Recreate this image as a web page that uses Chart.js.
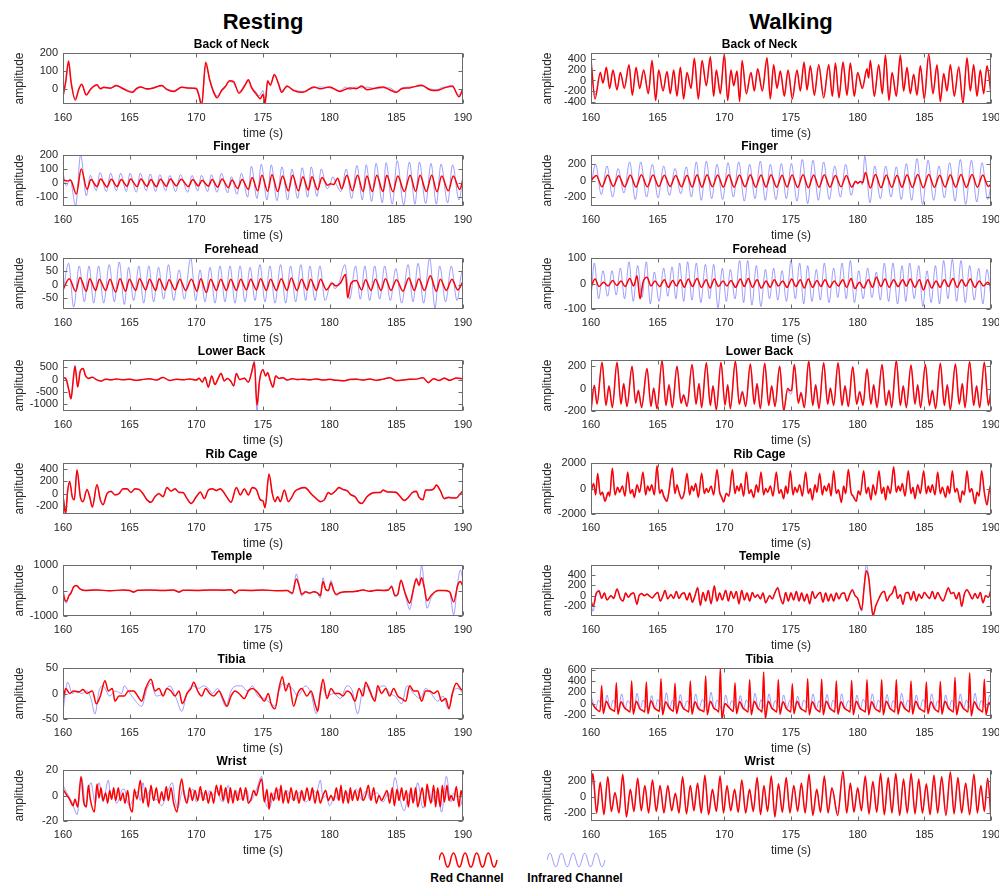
<!DOCTYPE html>
<html>
<head>
<meta charset="utf-8">
<script src="https://cdn.jsdelivr.net/npm/chart.js@4.4.0/dist/chart.umd.min.js"></script>
<style>
html, body { margin: 0; padding: 0; width: 999px; height: 883px; overflow: hidden; background: #fff; }
body { position: relative; font-family: 'Liberation Sans', Arial, Helvetica, sans-serif; }
canvas { position: absolute; }
.head { position: absolute; top: 9px; width: 200px; text-align: center; font-weight: bold; font-size: 22px; line-height: 26px; color: #000; }
.lg { position: absolute; top: 870px; text-align: center; font-weight: bold; font-size: 12px; line-height: 16px; color: #000; }
svg { position: absolute; }
</style>
</head>
<body>
<div class="head" style="left:163px">Resting</div>
<div class="head" style="left:691px">Walking</div>

<svg style="left:439px;top:852px" width="60" height="16"><path d="M0,8 Q2.9,-6 5.8,8 T11.6,8 T17.4,8 T23.2,8 T29,8 T34.8,8 T40.6,8 T46.4,8 T52.2,8 T58,8" fill="none" stroke="#ff0000" stroke-width="1.5"/></svg>
<svg style="left:547px;top:852px" width="60" height="16"><path d="M0,8 Q2.9,-6 5.8,8 T11.6,8 T17.4,8 T23.2,8 T29,8 T34.8,8 T40.6,8 T46.4,8 T52.2,8 T58,8" fill="none" stroke="rgba(60,60,255,0.55)" stroke-width="0.9"/></svg>
<div class="lg" style="left:417px;width:100px">Red Channel</div>
<div class="lg" style="left:505px;width:140px">Infrared Channel</div>

<script>
// time axis (s)
const xTicks = [160, 165, 170, 175, 180, 185, 190];

// ---- Resting: [t, value, t, value, ...]
const restNeckRed = [160,-45, 160.2,40, 160.42,155, 160.6,40, 160.92,-63, 161.2,0, 161.4,25, 161.75,-35, 162.05,-5, 162.55,22, 162.8,0, 163.05,8, 163.55,3, 164,18, 164.5,0, 165.2,-20, 165.5,0, 165.8,10, 166.3,0, 166.8,5, 167.4,18, 167.8,-5, 168.3,-15, 168.9,8, 169.5,5, 170,0, 170.2,-40, 170.4,-95, 170.7,148, 171,50, 171.3,-20, 171.55,-50, 171.9,-10, 172.15,10, 172.5,45, 172.8,40, 173.2,-25, 173.65,20, 173.9,50, 174.15,5, 174.5,-30, 174.8,-55, 175,-30, 175.15,-85, 175.35,45, 175.55,20, 175.85,80, 176.15,30, 176.4,-20, 176.8,15, 177.3,-10, 178,-20, 178.8,10, 179.3,0, 180,10, 180.75,-15, 181.5,5, 182,0, 182.4,15, 182.8,-5, 183.5,5, 184,10, 184.5,-5, 185,-20, 185.4,0, 186,5, 186.9,20, 187.5,-5, 188,-10, 188.6,5, 189.2,15, 189.7,-45, 190,0];
const restNeckIR = [160,-40, 160.2,30, 160.42,140, 160.6,45, 160.9,-55, 161.2,5, 161.4,20, 161.75,-30, 162.05,0, 162.55,18, 162.8,5, 163.05,5, 163.55,5, 164,15, 164.5,5, 165.2,-15, 165.5,5, 165.8,12, 166.3,-5, 166.8,8, 167.4,15, 167.8,0, 168.3,-10, 168.9,10, 169.5,0, 170,5, 170.2,-30, 170.4,-80, 170.7,130, 171,55, 171.3,-10, 171.55,-40, 171.9,-5, 172.15,15, 172.5,40, 172.8,30, 173.2,-15, 173.65,25, 173.9,40, 174.15,10, 174.5,-20, 174.7,-40, 175,-10, 175.15,-70, 175.35,40, 175.55,25, 175.85,70, 176.15,35, 176.4,-10, 176.8,10, 177.3,-5, 178,-15, 178.8,5, 179.3,10, 180,5, 180.75,-10, 181.2,10, 181.5,-5, 182,10, 182.4,5, 182.8,10, 183.5,0, 184,5, 184.5,5, 185,-15, 185.4,5, 186,10, 186.9,15, 187.5,0, 188,-5, 188.6,10, 189.2,10, 189.7,-35, 190,5];

const restFingerRed = [160,25, 160.3,15, 160.57,20, 161.0,-78, 161.37,100, 161.8,-45, 162.1,25, 162.55,-25, 162.82,30, 163.3,-28, 163.62,28, 164.05,-25, 164.37,25, 164.8,-22, 165.07,30, 165.55,-25, 165.84,30, 166.3,-22, 166.59,25, 167.0,-25, 167.31,28, 167.75,-22, 168.06,30, 168.5,-20, 168.86,28, 169.4,-25, 169.73,25, 170.15,-20, 170.43,20, 170.9,-22, 171.18,25, 171.6,-28, 171.93,30, 172.4,-32, 172.68,22, 173.1,-38, 173.43,25, 173.9,-45, 174.18,40, 174.6,-55, 174.92,55, 175.35,-58, 175.67,60, 176.1,-60, 176.47,50, 176.9,-55, 177.22,55, 177.65,-55, 177.99,45, 178.4,-50, 178.67,45, 179.1,-48, 179.42,40, 179.85,-15, 180.05,-5, 180.29,-10, 180.6,35, 180.9,-40, 181.29,55, 181.7,-55, 182.09,55, 182.5,-60, 182.79,50, 183.2,-60, 183.53,55, 184.0,-60, 184.28,55, 184.75,-62, 185.11,50, 185.6,-60, 186.03,55, 186.45,-58, 186.78,55, 187.25,-60, 187.65,55, 188.05,-62, 188.4,50, 188.9,-55, 189.27,50, 189.75,-45, 190,28];
const restFingerIR = [160,75, 160.25,-20, 160.52,30, 160.95,-160, 161.32,200, 161.75,-90, 162.05,55, 162.5,-55, 162.77,75, 163.25,-60, 163.57,70, 164.0,-55, 164.32,70, 164.75,-60, 165.02,70, 165.5,-65, 165.79,70, 166.25,-55, 166.54,65, 166.95,-60, 167.26,60, 167.7,-55, 168.01,55, 168.45,-60, 168.81,60, 169.35,-65, 169.68,55, 170.1,-55, 170.38,55, 170.85,-60, 171.13,60, 171.55,-65, 171.88,70, 172.35,-70, 172.63,45, 173.05,-80, 173.38,70, 173.85,-100, 174.13,120, 174.55,-110, 174.87,135, 175.3,-120, 175.62,130, 176.05,-125, 176.42,115, 176.85,-120, 177.17,100, 177.6,-110, 177.94,110, 178.35,-100, 178.62,115, 179.05,-95, 179.37,100, 179.8,-40, 180.0,-20, 180.24,45, 180.5,-10, 180.85,-60, 181.24,100, 181.65,-110, 182.04,125, 182.45,-120, 182.74,130, 183.15,-130, 183.48,140, 183.95,-140, 184.23,145, 184.7,-150, 185.06,160, 185.55,-155, 185.98,150, 186.4,-150, 186.73,150, 187.2,-145, 187.6,140, 188.0,-150, 188.35,135, 188.85,-140, 189.22,130, 189.7,-120, 190,55];

const restForeheadRed = [160,-20, 160.47,22, 160.95,-25, 161.27,27, 161.75,-25, 162.0,22, 162.45,-22, 162.72,20, 163.2,-22, 163.52,20, 163.95,-28, 164.27,22, 164.7,-25, 164.97,20, 165.45,-22, 165.74,22, 166.2,-20, 166.49,20, 166.95,-22, 167.21,22, 167.65,-20, 167.96,18, 168.4,-20, 168.76,20, 169.2,-22, 169.63,20, 170.05,-25, 170.33,22, 170.75,-30, 171.08,20, 171.5,-22, 171.83,20, 172.25,-22, 172.58,20, 173.0,-22, 173.33,20, 173.75,-20, 174.08,20, 174.5,-20, 174.82,22, 175.25,-22, 175.57,20, 176.0,-22, 176.37,22, 176.8,-22, 177.12,25, 177.55,-22, 177.89,20, 178.3,-20, 178.57,20, 179.0,-22, 179.32,20, 179.75,-20, 180.19,5, 180.45,-5, 180.8,5, 181.19,38, 181.35,-50, 181.6,5, 181.99,15, 182.4,-20, 182.69,18, 183.1,-22, 183.43,20, 183.85,-22, 184.18,22, 184.6,-22, 185.01,18, 185.5,-25, 185.93,25, 186.35,-22, 186.68,22, 187.1,-22, 187.55,33, 188.0,-25, 188.3,20, 188.75,-22, 189.17,20, 189.6,-20, 190,12];
const restForeheadIR = [160,-30, 160.42,80, 160.8,-85, 161.22,70, 161.6,-65, 161.95,70, 162.3,-70, 162.67,70, 163.05,-70, 163.47,75, 163.85,-65, 164.22,85, 164.6,-75, 164.92,65, 165.3,-60, 165.69,70, 166.05,-70, 166.44,70, 166.8,-65, 167.16,65, 167.55,-55, 167.91,75, 168.3,-60, 168.71,55, 169.1,-55, 169.58,100, 169.95,-60, 170.28,55, 170.65,-65, 171.03,65, 171.4,-70, 171.78,70, 172.15,-65, 172.53,70, 172.9,-70, 173.28,70, 173.65,-65, 174.03,65, 174.4,-60, 174.77,75, 175.15,-65, 175.52,70, 175.9,-70, 176.32,75, 176.7,-70, 177.07,70, 177.45,-65, 177.84,75, 178.2,-60, 178.52,70, 178.9,-60, 179.27,70, 179.65,-60, 180.14,10, 180.4,-15, 180.7,5, 181.14,75, 181.5,-55, 181.94,70, 182.3,-55, 182.64,70, 183.0,-60, 183.38,70, 183.75,-55, 184.13,70, 184.55,-60, 184.96,60, 185.4,-70, 185.88,75, 186.25,-65, 186.63,80, 187.05,-70, 187.5,100, 187.9,-88, 188.25,70, 188.7,-65, 189.12,70, 189.55,-60, 189.95,50, 190,45];

const restLowerBackRed = [160,80, 160.2,50, 160.45,-450, 160.6,-780, 160.75,-100, 160.9,550, 161.1,-300, 161.3,350, 161.5,450, 161.7,150, 161.9,50, 162.2,100, 162.5,0, 162.85,-60, 163.2,20, 163.6,-10, 164.0,30, 164.5,-10, 165.0,20, 165.5,-30, 166.0,10, 166.5,40, 167.0,-20, 167.5,90, 168.0,-40, 168.5,20, 169.0,-10, 169.5,30, 170.0,-20, 170.2,60, 170.45,-100, 170.65,100, 170.9,-300, 171.15,150, 171.4,-200, 171.6,0, 171.85,250, 172.1,-50, 172.35,50, 172.6,-80, 172.8,-250, 173.0,250, 173.25,0, 173.6,60, 173.9,-100, 174.15,300, 174.35,700, 174.55,-1050, 174.75,0, 175.0,400, 175.2,150, 175.35,280, 175.55,-50, 175.75,-300, 175.95,150, 176.2,50, 176.5,80, 176.8,-20, 177.2,40, 177.6,0, 178.0,20, 178.5,-10, 179.0,30, 179.5,-20, 180.0,10, 180.5,-30, 181.0,-50, 181.5,0, 182.0,20, 182.5,-20, 183.0,30, 183.5,-30, 184.0,20, 184.5,80, 185.0,-40, 185.5,-20, 186.0,10, 186.5,20, 187.0,80, 187.4,-120, 187.8,40, 188.2,-40, 188.6,60, 189.0,-30, 189.5,70, 190,30];
const restLowerBackIR = [160,90, 160.2,40, 160.45,-480, 160.6,-800, 160.75,-80, 160.9,580, 161.1,-280, 161.3,380, 161.5,460, 161.7,130, 161.9,60, 162.2,110, 162.5,-10, 162.85,-80, 163.2,30, 163.6,-20, 164.0,20, 164.5,0, 165.0,30, 165.5,-40, 166.0,0, 166.5,30, 167.0,-30, 167.5,100, 168.0,-30, 168.5,10, 169.0,0, 169.5,20, 170.0,-30, 170.2,70, 170.45,-120, 170.65,110, 170.9,-330, 171.15,160, 171.4,-220, 171.6,10, 171.85,270, 172.1,-60, 172.35,60, 172.6,-90, 172.8,-280, 173.0,270, 173.25,-10, 173.6,70, 173.9,-120, 174.15,330, 174.35,800, 174.55,-1300, 174.75,-20, 175.0,430, 175.2,140, 175.35,300, 175.55,-60, 175.75,-330, 175.95,160, 176.2,40, 176.5,90, 176.8,-30, 177.2,50, 177.6,-10, 178.0,30, 178.5,-20, 179.0,40, 179.5,-10, 180.0,0, 180.5,-20, 181.0,-60, 181.5,10, 182.0,30, 182.5,-10, 183.0,20, 183.5,-40, 184.0,10, 184.5,90, 185.0,-50, 185.5,-10, 186.0,20, 186.5,10, 187.0,90, 187.4,-140, 187.8,50, 188.2,-30, 188.6,70, 189.0,-40, 189.5,60, 190,40];

const restRibRed = [160,-30, 160.1,-200, 160.2,-330, 160.35,50, 160.5,200, 160.7,-60, 160.85,-100, 161.05,390, 161.3,-50, 161.5,-130, 161.8,70, 162.0,-50, 162.2,-220, 162.55,150, 162.8,-100, 163.0,-180, 163.3,0, 163.6,40, 163.9,-20, 164.2,0, 164.5,80, 164.8,80, 165.1,20, 165.4,80, 165.7,70, 166.0,0, 166.3,-100, 166.6,-140, 166.9,-50, 167.2,0, 167.5,-50, 167.8,100, 168.1,40, 168.4,80, 168.7,20, 169.0,20, 169.3,-80, 169.6,-160, 170.0,-50, 170.3,30, 170.6,-80, 170.9,60, 171.2,80, 171.5,50, 171.8,80, 172.0,40, 172.3,-60, 172.6,-140, 173.0,100, 173.3,-20, 173.6,80, 173.9,-20, 174.2,100, 174.5,70, 174.8,-100, 175.0,-120, 175.15,-230, 175.45,320, 175.7,0, 175.9,-130, 176.1,-50, 176.3,-130, 176.6,60, 176.9,-130, 177.1,-80, 177.4,40, 177.7,80, 178.1,100, 178.3,80, 178.6,0, 178.9,-60, 179.3,-130, 179.6,-100, 179.9,20, 180.1,-10, 180.4,40, 180.7,100, 181.0,70, 181.3,50, 181.6,-20, 181.9,-50, 182.2,-140, 182.4,-160, 182.8,-50, 183.1,0, 183.4,20, 183.8,20, 184.0,60, 184.3,30, 184.7,30, 185.0,20, 185.3,-50, 185.6,-110, 185.9,-60, 186.2,20, 186.5,40, 186.7,-60, 187.0,-100, 187.2,60, 187.5,60, 187.8,80, 188.0,140, 188.3,50, 188.6,-80, 188.9,-60, 189.2,-70, 189.5,-70, 189.8,0, 190,50];
const restRibIR = [160,-40, 160.1,-180, 160.2,-300, 160.35,40, 160.5,180, 160.7,-50, 160.85,-90, 161.05,360, 161.3,-40, 161.5,-120, 161.8,60, 162.0,-40, 162.2,-200, 162.55,140, 162.8,-90, 163.0,-170, 163.3,10, 163.6,30, 163.9,-10, 164.2,10, 164.5,70, 164.8,70, 165.1,30, 165.4,70, 165.7,60, 166.0,10, 166.3,-90, 166.6,-130, 166.9,-40, 167.2,10, 167.5,-40, 167.8,90, 168.1,50, 168.4,70, 168.7,30, 169.0,10, 169.3,-70, 169.6,-150, 170.0,-40, 170.3,20, 170.6,-70, 170.9,50, 171.2,70, 171.5,60, 171.8,70, 172.0,30, 172.3,-50, 172.6,-130, 173.0,90, 173.3,-10, 173.6,70, 173.9,-10, 174.2,90, 174.5,60, 174.8,-90, 175.0,-110, 175.15,-210, 175.45,300, 175.7,10, 175.9,-120, 176.1,-40, 176.3,-120, 176.6,50, 176.9,-120, 177.1,-70, 177.4,30, 177.7,70, 178.1,90, 178.3,70, 178.6,10, 178.9,-50, 179.3,-120, 179.6,-90, 179.9,10, 180.1,0, 180.4,30, 180.7,90, 181.0,60, 181.3,40, 181.6,-10, 181.9,-40, 182.2,-130, 182.4,-150, 182.8,-40, 183.1,10, 183.4,10, 183.8,30, 184.0,50, 184.3,40, 184.7,20, 185.0,30, 185.3,-40, 185.6,-100, 185.9,-50, 186.2,10, 186.5,30, 186.7,-50, 187.0,-90, 187.2,50, 187.5,50, 187.8,70, 188.0,130, 188.3,40, 188.6,-70, 188.9,-50, 189.2,-60, 189.5,-60, 189.8,10, 190,40];

const restTempleRed = [160,0, 160.1,-300, 160.25,-420, 160.45,-200, 160.6,-100, 160.8,150, 161.0,200, 161.3,50, 161.6,0, 162.5,20, 163.5,-10, 164.5,20, 165.0,0, 165.3,-60, 165.6,10, 166.5,20, 167.5,0, 168.3,20, 168.7,-60, 169.0,10, 170.0,0, 171.0,20, 172.0,10, 172.6,30, 172.9,-100, 173.2,10, 174.0,0, 175.0,20, 176.0,-10, 176.8,0, 177.2,-100, 177.5,450, 177.7,200, 177.9,-150, 178.2,-50, 178.5,-100, 178.8,-50, 179.1,-100, 179.3,-200, 179.5,350, 179.7,50, 179.9,0, 180.1,300, 180.3,0, 180.5,-150, 180.8,-80, 181.2,-50, 181.6,-50, 182.0,-30, 182.5,20, 183.0,-30, 183.5,10, 184.0,0, 184.4,20, 184.65,150, 184.9,-200, 185.1,-150, 185.35,400, 185.6,0, 185.8,-300, 186.0,-500, 186.3,100, 186.5,450, 186.7,200, 186.9,500, 187.1,100, 187.3,-400, 187.6,-200, 187.9,-50, 188.2,0, 188.6,0, 189.0,-50, 189.3,-450, 189.6,200, 189.8,350, 190,150];
const restTempleIR = [160,50, 160.1,-350, 160.25,-500, 160.45,-150, 160.6,-50, 160.8,100, 161.0,180, 161.3,40, 161.6,10, 162.5,30, 163.5,-20, 164.5,10, 165.0,10, 165.3,-80, 165.6,0, 166.5,10, 167.5,10, 168.3,10, 168.7,-80, 169.0,0, 170.0,10, 171.0,10, 172.0,20, 172.6,20, 172.9,-130, 173.2,0, 174.0,10, 175.0,10, 176.0,0, 176.8,10, 177.2,-150, 177.5,650, 177.7,250, 177.9,-220, 178.2,-60, 178.5,-130, 178.8,-60, 179.1,-120, 179.3,-300, 179.5,500, 179.7,50, 179.9,-20, 180.1,400, 180.3,-20, 180.5,-200, 180.8,-100, 181.2,-60, 181.6,-40, 182.0,-20, 182.5,30, 183.0,-40, 183.5,20, 184.0,10, 184.4,30, 184.65,200, 184.9,-250, 185.1,-180, 185.35,400, 185.6,-50, 185.8,-450, 186.0,-750, 186.3,50, 186.5,500, 186.7,250, 186.9,1000, 187.1,150, 187.3,-700, 187.6,-300, 187.9,-50, 188.2,10, 188.6,-10, 189.0,-80, 189.3,-950, 189.6,300, 189.8,800, 190,400];

const restTibiaRed = [160,-15, 160.2,10, 160.5,0, 160.8,5, 161.2,3, 161.5,8, 161.8,0, 162.2,5, 162.5,-20, 162.8,-5, 163.15,25, 163.4,5, 163.7,10, 163.9,-15, 164.2,-5, 164.6,-5, 164.9,5, 165.3,5, 165.6,-5, 165.9,-15, 166.2,10, 166.6,28, 166.9,5, 167.2,10, 167.5,-5, 167.8,10, 168.1,5, 168.4,-5, 168.7,5, 168.95,-20, 169.3,0, 169.6,10, 169.8,22, 170.1,5, 170.4,-5, 170.7,10, 171.0,0, 171.3,-5, 171.7,5, 172.0,-10, 172.3,-25, 172.6,-5, 172.9,5, 173.2,0, 173.6,-10, 173.9,5, 174.2,10, 174.5,5, 174.8,-5, 175.1,-15, 175.4,0, 175.6,-20, 175.9,-30, 176.2,10, 176.45,33, 176.7,5, 176.95,20, 177.3,-25, 177.6,0, 177.9,10, 178.3,-5, 178.6,5, 178.9,-20, 179.1,-35, 179.3,0, 179.5,28, 179.8,-10, 180.1,10, 180.4,0, 180.7,0, 181.0,-5, 181.3,5, 181.6,0, 181.9,-15, 182.2,10, 182.5,-5, 182.7,22, 183.0,5, 183.4,-15, 183.6,15, 183.9,0, 184.2,10, 184.5,-5, 184.8,10, 185.1,-5, 185.4,-10, 185.7,-15, 186.0,15, 186.3,5, 186.6,5, 186.9,-15, 187.2,5, 187.5,5, 187.8,0, 188.1,5, 188.4,-15, 188.7,-10, 188.95,-30, 189.2,0, 189.5,20, 189.8,10, 190,5];
const restTibiaIR = [160,-35, 160.35,22, 160.7,0, 161.0,5, 161.4,0, 161.8,5, 162.1,-10, 162.4,-40, 162.7,5, 163.0,15, 163.5,-5, 163.9,5, 164.4,0, 164.6,15, 164.9,5, 165.3,-10, 165.9,-25, 166.3,10, 166.6,20, 167.0,-5, 167.5,0, 168.0,15, 168.5,-10, 168.9,-35, 169.3,0, 169.7,15, 170.2,10, 170.5,15, 170.9,10, 171.2,0, 171.6,10, 172.2,-25, 172.6,5, 173.0,15, 173.4,15, 173.8,5, 174.2,15, 174.6,-5, 175.1,-10, 175.6,-20, 175.9,-25, 176.2,5, 176.5,20, 176.8,15, 177.2,10, 177.6,-5, 178.2,15, 178.6,0, 179.0,-40, 179.4,15, 179.8,-5, 180.3,0, 180.8,-10, 181.3,15, 181.7,5, 182.1,-40, 182.5,10, 182.9,15, 183.3,-10, 183.7,10, 184.1,15, 184.5,0, 184.9,-5, 185.4,-20, 185.8,15, 186.3,0, 186.8,-10, 187.2,10, 187.6,0, 188.1,-15, 188.5,-5, 188.9,-30, 189.3,5, 189.6,10, 190,0];

const restWristRed = [160,5, 160.3,0, 160.5,-3, 160.75,-8, 160.9,-3, 161.1,-9, 161.35,15, 161.55,-5, 161.75,-9, 161.9,8, 162.05,-3, 162.35,-13, 162.55,9, 162.7,-2, 162.85,6, 163.0,-4, 163.2,2, 163.35,-6, 163.5,4, 163.65,-3, 163.8,6, 163.95,-4, 164.15,6, 164.3,-4, 164.5,2, 164.65,-6, 164.85,4, 165.0,-8, 165.2,-13, 165.35,5, 165.55,-3, 165.8,12, 166.0,-6, 166.2,6, 166.4,-9, 166.6,8, 166.8,-4, 167.0,6, 167.2,-6, 167.4,3, 167.55,-4, 167.75,7, 167.9,-4, 168.1,6, 168.3,-6, 168.55,-13, 168.75,5, 168.9,13, 169.1,0, 169.3,-6, 169.5,6, 169.7,-4, 169.9,4, 170.1,-4, 170.3,7, 170.5,-4, 170.7,4, 170.9,-6, 171.1,3, 171.3,-6, 171.5,8, 171.7,0, 171.85,8, 172.0,-4, 172.2,6, 172.4,-6, 172.55,6, 172.75,-6, 172.9,4, 173.1,-4, 173.3,6, 173.5,-4, 173.7,6, 173.9,-6, 174.1,-3, 174.3,4, 174.5,0, 174.7,8, 174.9,13, 175.1,-5, 175.3,5, 175.45,-11, 175.6,2, 175.8,-4, 176.0,6, 176.2,-4, 176.35,8, 176.5,-6, 176.7,4, 176.9,-6, 177.1,6, 177.3,-4, 177.5,4, 177.7,-6, 177.9,4, 178.1,-4, 178.3,6, 178.5,-4, 178.7,6, 178.9,-6, 179.1,4, 179.3,-6, 179.5,0, 179.7,4, 179.9,-4, 180.1,0, 180.3,-4, 180.5,6, 180.7,-4, 180.85,8, 181.0,-6, 181.2,4, 181.4,-6, 181.55,6, 181.7,-4, 181.9,4, 182.1,-4, 182.3,6, 182.5,-4, 182.7,0, 182.9,8, 183.1,-4, 183.3,6, 183.5,-6, 183.7,0, 183.9,-4, 184.1,0, 184.3,4, 184.5,-6, 184.7,6, 184.85,-8, 185.05,5, 185.2,-4, 185.4,6, 185.55,-4, 185.75,4, 185.9,-9, 186.1,6, 186.25,-6, 186.45,6, 186.6,-9, 186.8,0, 186.95,6, 187.15,-9, 187.3,9, 187.45,0, 187.6,-6, 187.8,8, 187.95,-9, 188.1,6, 188.3,-9, 188.45,8, 188.6,-5, 188.8,8, 188.95,-4, 189.1,0, 189.3,-4, 189.5,7, 189.7,-9, 189.85,4, 190,-4];
const restWristIR = [160,8, 160.4,0, 160.7,-6, 160.9,-12, 161.05,-15, 161.4,14, 161.7,-8, 161.9,4, 162.1,10, 162.4,-6, 162.7,10, 163.0,-5, 163.4,12, 163.6,-2, 163.8,2, 164.0,-6, 164.2,-3, 164.4,4, 164.6,5, 164.8,-4, 165.0,-8, 165.35,0, 165.6,3, 165.8,-4, 166.0,10, 166.2,-2, 166.6,5, 166.8,-4, 167.0,-3, 167.4,-8, 167.8,2, 168.2,10, 168.4,-3, 168.6,-10, 169.0,5, 169.3,-4, 169.5,0, 169.75,5, 170.0,-5, 170.4,3, 170.6,-3, 170.8,-2, 171.0,4, 171.2,0, 171.6,4, 171.8,-3, 172.0,-5, 172.4,8, 172.6,-2, 172.8,0, 173.0,4, 173.2,-3, 173.6,0, 173.8,4, 174.0,-5, 174.45,3, 174.9,15, 175.1,-2, 175.5,-10, 175.8,2, 176.0,-3, 176.2,5, 176.6,0, 176.8,4, 177.0,0, 177.3,-4, 177.5,-2, 177.8,3, 178.0,-3, 178.2,-5, 178.6,0, 178.8,4, 179.0,2, 179.3,12, 179.5,-2, 179.7,0, 180.0,-8, 180.4,0, 180.6,-3, 180.8,5, 181.0,-2, 181.2,3, 181.6,-2, 181.8,2, 182.0,5, 182.4,-3, 182.6,2, 182.8,4, 183.0,-3, 183.2,0, 183.6,2, 183.8,-2, 184.0,-5, 184.4,2, 184.6,-2, 184.9,14, 185.2,0, 185.6,-12, 185.8,-4, 186.0,2, 186.3,-5, 186.6,10, 187.0,-10, 187.4,5, 187.7,-5, 187.9,3, 188.1,0, 188.4,-13, 188.75,15, 189.1,-5, 189.3,2, 189.5,0, 189.8,-8, 190,0];

// ---- Walking
const walkNeckRed = [160,400, 160.3,-350, 160.7,150, 160.9,-50, 161.15,250, 161.4,-150, 161.65,200, 161.95,-180, 162.2,150, 162.5,-150, 162.85,300, 163.1,-280, 163.38,250, 163.65,-150, 163.95,200, 164.3,-250, 164.58,380, 164.85,-380, 165.08,200, 165.4,-200, 165.7,170, 165.95,-250, 166.2,200, 166.45,-300, 166.7,250, 166.95,-350, 167.2,150, 167.5,-150, 167.75,420, 168.05,-350, 168.33,380, 168.65,-100, 168.95,450, 169.2,-300, 169.4,200, 169.7,-250, 170.0,500, 170.25,-380, 170.5,200, 170.7,-100, 170.95,180, 171.15,-400, 171.33,380, 171.65,-250, 172.0,150, 172.25,-200, 172.5,220, 172.85,-200, 173.2,430, 173.45,-350, 173.7,300, 173.95,-150, 174.2,180, 174.5,-300, 174.78,200, 175.1,-350, 175.45,200, 175.7,-200, 175.98,350, 176.2,-180, 176.45,280, 176.75,-280, 177.08,300, 177.45,-330, 177.83,300, 178.1,-300, 178.33,330, 178.6,-330, 178.9,350, 179.2,-280, 179.45,330, 179.75,-300, 180.0,150, 180.35,-150, 180.7,220, 180.82,50, 180.95,380, 181.25,-300, 181.58,300, 181.85,-250, 182.08,480, 182.35,-380, 182.58,150, 182.9,-300, 183.2,480, 183.45,-200, 183.7,250, 183.95,-250, 184.2,120, 184.45,-280, 184.7,280, 185.0,-350, 185.33,500, 185.65,-250, 185.95,300, 186.2,-400, 186.45,130, 186.7,-200, 186.95,300, 187.25,-300, 187.58,260, 187.9,-440, 188.2,430, 188.45,-200, 188.7,300, 188.95,-300, 189.2,200, 189.45,-250, 189.7,280, 190,-250];
const walkNeckIR = [160,340, 160.3,-280, 160.7,130, 160.9,-40, 161.15,210, 161.4,-120, 161.65,170, 161.95,-150, 162.2,130, 162.5,-120, 162.85,260, 163.1,-230, 163.38,210, 163.65,-120, 163.95,170, 164.3,-200, 164.58,320, 164.85,-310, 165.08,170, 165.4,-160, 165.7,150, 165.95,-200, 166.2,170, 166.45,-240, 166.7,210, 166.95,-280, 167.2,130, 167.5,-120, 167.75,350, 168.05,-280, 168.33,320, 168.65,-80, 168.95,380, 169.2,-240, 169.4,170, 169.7,-200, 170.0,420, 170.25,-300, 170.5,170, 170.7,-80, 170.95,150, 171.15,-320, 171.33,320, 171.65,-200, 172.0,130, 172.25,-160, 172.5,190, 172.85,-160, 173.2,360, 173.45,-280, 173.7,250, 173.95,-120, 174.2,150, 174.5,-240, 174.78,170, 175.1,-280, 175.45,170, 175.7,-160, 175.98,300, 176.2,-150, 176.45,240, 176.75,-220, 177.08,250, 177.45,-260, 177.83,250, 178.1,-240, 178.33,280, 178.6,-260, 178.9,300, 179.2,-220, 179.45,280, 179.75,-240, 180.0,130, 180.35,-120, 180.7,190, 180.82,40, 180.95,320, 181.25,-240, 181.58,250, 181.85,-200, 182.08,400, 182.35,-300, 182.58,130, 182.9,-240, 183.2,400, 183.45,-160, 183.7,210, 183.95,-200, 184.2,100, 184.45,-220, 184.7,240, 185.0,-280, 185.33,420, 185.65,-200, 185.95,250, 186.2,-320, 186.45,110, 186.7,-160, 186.95,250, 187.25,-240, 187.58,220, 187.9,-350, 188.2,360, 188.45,-160, 188.7,250, 188.95,-240, 189.2,170, 189.45,-200, 189.7,240, 190,-200];

const walkFingerRed = [160,0, 160.4,65, 160.82,-75, 161.25,70, 161.67,-70, 162.08,60, 162.52,-75, 162.95,70, 163.37,-78, 163.78,72, 164.22,-75, 164.65,70, 165.08,-72, 165.5,68, 165.93,-70, 166.35,65, 166.78,-75, 167.2,68, 167.58,-78, 167.95,72, 168.32,-80, 168.7,72, 169.1,-75, 169.5,70, 169.92,-78, 170.33,72, 170.73,-80, 171.13,70, 171.55,-75, 171.95,72, 172.35,-80, 172.75,70, 173.12,-78, 173.5,72, 173.92,-80, 174.33,68, 174.7,-78, 175.08,70, 175.5,-82, 175.9,72, 176.3,-85, 176.7,70, 177.1,-80, 177.5,72, 177.92,-80, 178.33,65, 178.75,-75, 179.15,65, 179.55,-80, 179.85,-10, 180.0,-30, 180.2,-10, 180.38,-25, 180.58,100, 180.95,-90, 181.33,75, 181.75,-85, 182.15,70, 182.55,-80, 182.95,68, 183.32,-80, 183.7,72, 184.1,-82, 184.5,75, 184.92,-85, 185.33,75, 185.75,-80, 186.15,68, 186.55,-78, 186.95,72, 187.35,-80, 187.75,75, 188.15,-82, 188.58,75, 188.98,-80, 189.38,70, 189.8,-70, 190,-40];
const walkFingerIR = [160,-60, 160.35,200, 160.77,-170, 161.2,180, 161.62,-200, 162.03,150, 162.47,-150, 162.9,230, 163.32,-230, 163.73,230, 164.17,-200, 164.6,200, 165.03,-210, 165.45,180, 165.88,-180, 166.3,150, 166.73,-160, 167.15,170, 167.53,-200, 167.9,230, 168.27,-240, 168.65,240, 169.05,-220, 169.45,200, 169.87,-230, 170.28,220, 170.68,-200, 171.08,230, 171.5,-250, 171.9,200, 172.3,-220, 172.7,240, 173.07,-240, 173.45,200, 173.87,-230, 174.28,210, 174.65,-220, 175.03,210, 175.45,-250, 175.85,260, 176.25,-280, 176.65,250, 177.05,-240, 177.45,230, 177.87,-230, 178.28,180, 178.7,-200, 179.1,200, 179.52,-180, 179.8,0, 180.0,-40, 180.2,-10, 180.35,-50, 180.53,300, 180.92,-270, 181.28,180, 181.7,-220, 182.1,180, 182.5,-200, 182.9,170, 183.27,-230, 183.65,210, 184.05,-240, 184.45,270, 184.87,-290, 185.28,250, 185.7,-240, 186.1,180, 186.5,-210, 186.9,220, 187.3,-250, 187.7,260, 188.1,-290, 188.53,250, 188.93,-260, 189.33,220, 189.75,-230, 190,-50];

const walkForeheadRed = [160,-15, 160.3,18, 160.6,-12, 160.95,5, 161.28,-10, 161.63,12, 161.93,-8, 162.25,10, 162.56,-12, 162.9,20, 163.2,-10, 163.45,30, 163.68,-60, 163.9,5, 164.2,25, 164.5,-10, 164.8,10, 165.14,-12, 165.5,15, 165.8,-15, 166.13,12, 166.41,-10, 166.7,15, 167.0,-15, 167.3,18, 167.61,-12, 167.95,20, 168.28,-15, 168.63,15, 168.93,-18, 169.25,18, 169.56,-12, 169.9,10, 170.19,-10, 170.5,12, 170.84,-15, 171.2,18, 171.49,-12, 171.8,20, 172.11,-15, 172.45,15, 172.78,-18, 173.13,10, 173.43,-15, 173.75,15, 174.05,-10, 174.38,10, 174.7,-15, 175.05,18, 175.36,-12, 175.7,15, 175.99,-18, 176.3,18, 176.61,-15, 176.95,12, 177.24,-12, 177.55,15, 177.89,-15, 178.25,10, 178.55,-10, 178.88,15, 179.18,-15, 179.5,20, 179.8,-20, 180.13,5, 180.45,-18, 180.8,15, 181.11,-15, 181.4,25, 181.74,-12, 182.05,18, 182.36,-15, 182.7,15, 183.03,-12, 183.38,15, 183.65,-10, 183.95,18, 184.28,-15, 184.63,15, 184.93,-25, 185.25,15, 185.55,-18, 185.88,10, 186.18,-15, 186.5,15, 186.81,-12, 187.15,20, 187.46,-15, 187.8,15, 188.11,-10, 188.45,18, 188.78,-15, 189.13,10, 189.43,-10, 189.75,5, 190,-10];
const walkForeheadIR = [160,-60, 160.25,80, 160.57,-60, 160.9,50, 161.24,-50, 161.58,50, 161.89,-45, 162.2,60, 162.52,-60, 162.85,85, 163.17,-70, 163.5,70, 163.82,-55, 164.15,85, 164.45,-80, 164.75,45, 165.1,-70, 165.45,60, 165.76,-50, 166.08,65, 166.37,-60, 166.65,80, 166.95,-70, 167.25,85, 167.57,-65, 167.9,80, 168.24,-75, 168.58,75, 168.89,-60, 169.2,75, 169.52,-95, 169.85,60, 170.15,-70, 170.45,55, 170.8,-60, 171.15,90, 171.45,-75, 171.75,90, 172.07,-85, 172.4,70, 172.74,-90, 173.08,55, 173.39,-60, 173.7,60, 174.01,-65, 174.33,50, 174.66,-70, 175.0,90, 175.32,-60, 175.65,80, 175.95,-80, 176.25,70, 176.57,-70, 176.9,55, 177.2,-65, 177.5,80, 177.85,-75, 178.2,60, 178.51,-55, 178.83,80, 179.14,-60, 179.45,90, 179.76,-75, 180.08,50, 180.41,-60, 180.75,60, 181.07,-55, 181.4,45, 181.7,-65, 182.0,80, 182.32,-70, 182.65,80, 182.99,-80, 183.33,70, 183.61,-70, 183.9,80, 184.24,-60, 184.58,70, 184.89,-90, 185.2,50, 185.51,-75, 185.83,70, 186.14,-80, 186.45,90, 186.77,-60, 187.1,95, 187.42,-70, 187.75,90, 188.07,-75, 188.4,70, 188.74,-65, 189.08,60, 189.39,-80, 189.7,55, 190,-60];

const walkLowerBackRed = [160,-200, 160.25,30, 160.45,-140, 160.83,235, 161.12,-150, 161.35,20, 161.6,-170, 161.95,235, 162.25,-140, 162.45,40, 162.7,-160, 163.08,200, 163.35,-130, 163.55,-20, 163.8,-170, 164.2,180, 164.5,-160, 164.7,0, 164.95,-180, 165.33,250, 165.62,-150, 165.85,30, 166.1,-170, 166.45,200, 166.75,-130, 166.95,-60, 167.2,-160, 167.58,215, 167.88,-140, 168.1,40, 168.3,-170, 168.65,230, 168.95,-150, 169.15,20, 169.4,-190, 169.75,235, 170.05,-150, 170.25,30, 170.45,-180, 170.83,245, 171.12,-140, 171.35,-30, 171.6,-160, 171.95,220, 172.25,-140, 172.45,40, 172.7,-180, 173.03,225, 173.33,-150, 173.55,20, 173.8,-160, 174.15,200, 174.45,-200, 174.75,0, 174.95,-20, 175.05,-10, 175.25,215, 175.55,-130, 175.75,-40, 176.0,-170, 176.33,245, 176.63,-150, 176.85,30, 177.1,-180, 177.45,230, 177.75,-140, 177.95,0, 178.2,-150, 178.53,230, 178.83,-150, 179.05,20, 179.3,-160, 179.63,195, 179.93,-140, 180.15,-30, 180.4,-150, 180.7,175, 181.0,-140, 181.2,30, 181.45,-170, 181.83,215, 182.12,-150, 182.35,-20, 182.55,-170, 182.9,250, 183.2,-150, 183.42,20, 183.65,-170, 184.0,210, 184.3,-140, 184.5,30, 184.72,-170, 185.08,215, 185.38,-150, 185.6,-20, 185.85,-180, 186.2,225, 186.5,-150, 186.72,30, 186.95,-190, 187.33,220, 187.62,-140, 187.85,40, 188.05,-170, 188.4,240, 188.7,-150, 188.92,20, 189.15,-170, 189.5,235, 189.8,-150, 190,-20];
const walkLowerBackIR = [160,-170, 160.25,20, 160.45,-120, 160.83,225, 161.12,-130, 161.35,30, 161.6,-150, 161.95,225, 162.25,-120, 162.45,50, 162.7,-140, 163.08,190, 163.35,-110, 163.55,-10, 163.8,-150, 164.2,175, 164.5,-140, 164.7,10, 164.95,-160, 165.33,240, 165.62,-130, 165.85,40, 166.1,-150, 166.45,195, 166.75,-110, 166.95,-50, 167.2,-140, 167.58,205, 167.88,-120, 168.1,50, 168.3,-150, 168.65,220, 168.95,-130, 169.15,30, 169.4,-170, 169.75,225, 170.05,-130, 170.25,40, 170.45,-160, 170.83,235, 171.12,-120, 171.35,-20, 171.6,-140, 171.95,210, 172.25,-120, 172.45,50, 172.7,-160, 173.03,215, 173.33,-130, 173.55,30, 173.8,-140, 174.15,195, 174.45,-180, 174.75,-10, 174.95,-50, 175.05,-40, 175.25,205, 175.55,-110, 175.75,-30, 176.0,-150, 176.33,235, 176.63,-130, 176.85,40, 177.1,-160, 177.45,220, 177.75,-120, 177.95,10, 178.2,-130, 178.53,220, 178.83,-130, 179.05,30, 179.3,-140, 179.63,190, 179.93,-120, 180.15,-20, 180.4,-130, 180.7,170, 181.0,-120, 181.2,40, 181.45,-150, 181.83,205, 182.12,-130, 182.35,-10, 182.55,-150, 182.9,240, 183.2,-130, 183.42,30, 183.65,-150, 184.0,200, 184.3,-120, 184.5,40, 184.72,-150, 185.08,205, 185.38,-130, 185.6,-10, 185.85,-160, 186.2,215, 186.5,-130, 186.72,40, 186.95,-170, 187.33,210, 187.62,-120, 187.85,50, 188.05,-150, 188.4,230, 188.7,-130, 188.92,30, 189.15,-150, 189.5,225, 189.8,-130, 190,-10];

const walkRibRed = [160,-300, 160.2,400, 160.35,-500, 160.5,1200, 160.7,-500, 160.85,-300, 161.05,-1000, 161.3,-300, 161.4,-600, 161.6,1600, 161.8,-500, 162.0,100, 162.15,-300, 162.35,200, 162.55,-600, 162.75,1300, 162.95,-400, 163.1,-100, 163.25,-700, 163.45,300, 163.65,-300, 163.9,1300, 164.1,-500, 164.25,200, 164.4,-200, 164.55,300, 164.75,-500, 164.95,1800, 165.15,-400, 165.3,-100, 165.45,-600, 165.7,-1000, 165.85,-200, 166.1,1600, 166.3,-400, 166.45,300, 166.6,-300, 166.8,-800, 167.0,-300, 167.2,1200, 167.4,-500, 167.55,200, 167.7,-200, 167.85,400, 168.05,-700, 168.3,1200, 168.5,-400, 168.65,0, 168.8,-300, 169.0,200, 169.2,-500, 169.45,1500, 169.65,-300, 169.8,-700, 169.95,-1050, 170.15,-400, 170.35,-600, 170.6,1500, 170.8,-400, 170.95,200, 171.1,-200, 171.25,400, 171.45,-600, 171.65,1300, 171.85,-400, 172.0,-100, 172.2,-700, 172.4,300, 172.55,-300, 172.75,1300, 172.95,-500, 173.1,0, 173.25,-300, 173.45,200, 173.65,-600, 173.9,1300, 174.1,-400, 174.25,-100, 174.45,-800, 174.6,200, 174.75,-400, 174.95,1400, 175.15,-500, 175.3,100, 175.45,-300, 175.65,300, 175.85,-600, 176.1,1300, 176.3,-400, 176.45,0, 176.6,-900, 176.8,300, 176.95,-300, 177.15,1200, 177.35,-500, 177.5,200, 177.65,-200, 177.85,400, 178.0,-600, 178.2,1400, 178.4,-400, 178.55,-100, 178.78,-1100, 178.95,200, 179.1,-400, 179.3,1500, 179.5,-300, 179.65,-600, 179.9,-1000, 180.05,-200, 180.2,-500, 180.45,1400, 180.65,-400, 180.8,100, 181.0,-900, 181.15,300, 181.35,-500, 181.6,1400, 181.8,-400, 181.95,100, 182.1,-900, 182.25,200, 182.45,-400, 182.7,1700, 182.9,-300, 183.05,200, 183.2,-200, 183.35,400, 183.55,-600, 183.8,1400, 184.0,-400, 184.15,100, 184.3,-800, 184.5,300, 184.7,-400, 184.95,1400, 185.15,-400, 185.3,200, 185.45,-300, 185.6,300, 185.8,-500, 186.0,1300, 186.2,-400, 186.35,100, 186.6,-700, 186.75,200, 186.9,-400, 187.1,1400, 187.3,-300, 187.45,0, 187.7,-1100, 187.85,-200, 188.0,-500, 188.2,1400, 188.4,-300, 188.55,0, 188.8,-1200, 188.95,-300, 189.1,-600, 189.3,1400, 189.5,-300, 189.7,-1300, 189.85,-300, 190,400];
const walkRibIR = [160,-250, 160.2,350, 160.35,-420, 160.5,1050, 160.7,-420, 160.85,-250, 161.05,-850, 161.3,-250, 161.4,-500, 161.6,1400, 161.8,-420, 162.0,100, 162.15,-250, 162.35,180, 162.55,-500, 162.75,1150, 162.95,-350, 163.1,-80, 163.25,-600, 163.45,250, 163.65,-250, 163.9,1150, 164.1,-420, 164.25,180, 164.4,-170, 164.55,250, 164.75,-420, 164.95,1550, 165.15,-350, 165.3,-80, 165.45,-500, 165.7,-850, 165.85,-170, 166.1,1400, 166.3,-350, 166.45,250, 166.6,-250, 166.8,-700, 167.0,-250, 167.2,1050, 167.4,-420, 167.55,180, 167.7,-170, 167.85,350, 168.05,-600, 168.3,1050, 168.5,-350, 168.65,0, 168.8,-250, 169.0,180, 169.2,-420, 169.45,1300, 169.65,-250, 169.8,-600, 169.95,-900, 170.15,-350, 170.35,-500, 170.6,1300, 170.8,-350, 170.95,180, 171.1,-170, 171.25,350, 171.45,-500, 171.65,1150, 171.85,-350, 172.0,-80, 172.2,-600, 172.4,250, 172.55,-250, 172.75,1150, 172.95,-420, 173.1,0, 173.25,-250, 173.45,180, 173.65,-500, 173.9,1150, 174.1,-350, 174.25,-80, 174.45,-700, 174.6,180, 174.75,-350, 174.95,1200, 175.15,-420, 175.3,80, 175.45,-250, 175.65,250, 175.85,-500, 176.1,1150, 176.3,-350, 176.45,0, 176.6,-780, 176.8,250, 176.95,-250, 177.15,1050, 177.35,-420, 177.5,180, 177.65,-170, 177.85,350, 178.0,-500, 178.2,1200, 178.4,-350, 178.55,-80, 178.78,-950, 178.95,180, 179.1,-350, 179.3,1300, 179.5,-250, 179.65,-500, 179.9,-870, 180.05,-170, 180.2,-420, 180.45,1200, 180.65,-350, 180.8,80, 181.0,-780, 181.15,250, 181.35,-420, 181.6,1200, 181.8,-350, 181.95,80, 182.1,-780, 182.25,180, 182.45,-350, 182.7,1450, 182.9,-250, 183.05,180, 183.2,-170, 183.35,350, 183.55,-500, 183.8,1200, 184.0,-350, 184.15,80, 184.3,-700, 184.5,250, 184.7,-350, 184.95,1200, 185.15,-350, 185.3,180, 185.45,-250, 185.6,250, 185.8,-420, 186.0,1150, 186.2,-350, 186.35,80, 186.6,-600, 186.75,180, 186.9,-350, 187.1,1200, 187.3,-250, 187.45,0, 187.7,-950, 187.85,-170, 188.0,-420, 188.2,1200, 188.4,-250, 188.55,0, 188.8,-1050, 188.95,-250, 189.1,-500, 189.3,1200, 189.5,-250, 189.7,-1100, 189.85,-250, 190,350];

const walkTempleRed = [160,-100, 160.15,-200, 160.4,50, 160.6,90, 160.8,-50, 161.0,50, 161.2,-80, 161.5,0, 161.7,-50, 161.95,130, 162.2,-50, 162.4,-100, 162.6,50, 162.8,-30, 163.0,30, 163.2,50, 163.45,-160, 163.6,0, 163.8,40, 164.0,0, 164.2,30, 164.4,-10, 164.6,-40, 164.8,20, 165.0,60, 165.2,-100, 165.4,0, 165.55,100, 165.75,-60, 166.0,20, 166.2,-50, 166.4,80, 166.6,-50, 166.8,30, 167.0,50, 167.2,-80, 167.4,50, 167.6,-120, 167.8,0, 168.0,150, 168.2,-180, 168.4,60, 168.6,-100, 168.8,100, 169.0,-150, 169.25,180, 169.45,-100, 169.65,50, 169.85,-80, 170.1,100, 170.3,-100, 170.5,80, 170.7,-50, 170.9,80, 171.1,-150, 171.3,100, 171.5,-80, 171.7,50, 171.9,-100, 172.1,60, 172.3,-30, 172.5,20, 172.7,-60, 172.9,50, 173.1,-130, 173.4,0, 173.6,-60, 173.8,60, 174.0,150, 174.2,-30, 174.4,-150, 174.6,60, 174.8,-100, 175.0,50, 175.2,-80, 175.4,80, 175.6,-100, 175.8,50, 176.0,-100, 176.2,30, 176.4,-150, 176.6,80, 176.8,-50, 177.0,20, 177.2,60, 177.4,-120, 177.6,50, 177.8,-100, 178.0,30, 178.2,-100, 178.4,50, 178.6,-60, 178.8,40, 179.0,50, 179.2,-100, 179.4,20, 179.6,110, 179.8,0, 180.0,-50, 180.3,-270, 180.5,200, 180.65,480, 180.85,300, 181.0,-100, 181.15,-380, 181.35,-200, 181.6,-50, 181.8,50, 182.0,80, 182.2,-100, 182.4,0, 182.6,50, 182.8,180, 183.0,-50, 183.2,20, 183.4,-160, 183.6,50, 183.8,60, 184.0,-80, 184.2,80, 184.4,-100, 184.6,30, 184.8,-50, 185.0,60, 185.2,0, 185.4,-50, 185.6,80, 185.8,-60, 186.0,60, 186.2,-30, 186.4,-100, 186.6,20, 186.8,150, 187.0,40, 187.2,60, 187.4,-60, 187.6,60, 187.8,-200, 188.0,30, 188.2,110, 188.4,30, 188.6,-60, 188.8,40, 189.0,-50, 189.2,60, 189.4,-130, 189.6,0, 189.8,-30, 190,120];
const walkTempleIR = [160,-150, 160.15,-300, 160.4,40, 160.6,110, 160.8,-60, 161.0,60, 161.2,-90, 161.5,10, 161.7,-60, 161.95,120, 162.2,-60, 162.4,-110, 162.6,60, 162.8,-20, 163.0,40, 163.2,60, 163.45,-180, 163.6,10, 163.8,30, 164.0,10, 164.2,40, 164.4,0, 164.6,-50, 164.8,30, 165.0,70, 165.2,-110, 165.4,10, 165.55,110, 165.75,-70, 166.0,30, 166.2,-60, 166.4,90, 166.6,-60, 166.8,40, 167.0,60, 167.2,-90, 167.4,60, 167.6,-140, 167.8,10, 168.0,170, 168.2,-200, 168.4,70, 168.6,-110, 168.8,110, 169.0,-170, 169.25,200, 169.45,-110, 169.65,60, 169.85,-90, 170.1,110, 170.3,-110, 170.5,90, 170.7,-60, 170.9,90, 171.1,-170, 171.3,110, 171.5,-90, 171.7,60, 171.9,-110, 172.1,70, 172.3,-40, 172.5,30, 172.7,-70, 172.9,60, 173.1,-150, 173.4,10, 173.6,-70, 173.8,70, 174.0,170, 174.2,-40, 174.4,-170, 174.6,70, 174.8,-110, 175.0,60, 175.2,-90, 175.4,90, 175.6,-110, 175.8,60, 176.0,-110, 176.2,40, 176.4,-170, 176.6,90, 176.8,-60, 177.0,30, 177.2,70, 177.4,-130, 177.6,60, 177.8,-110, 178.0,40, 178.2,-110, 178.4,60, 178.6,-70, 178.8,50, 179.0,60, 179.2,-110, 179.4,30, 179.6,130, 179.8,10, 180.0,-60, 180.3,-300, 180.5,250, 180.65,590, 180.85,320, 181.0,-120, 181.15,-400, 181.35,-220, 181.6,-60, 181.8,60, 182.0,90, 182.2,-110, 182.4,10, 182.6,60, 182.8,190, 183.0,-60, 183.2,30, 183.4,-180, 183.6,60, 183.8,70, 184.0,-90, 184.2,90, 184.4,-110, 184.6,40, 184.8,-60, 185.0,70, 185.2,10, 185.4,-60, 185.6,90, 185.8,-70, 186.0,70, 186.2,-40, 186.4,-110, 186.6,30, 186.8,160, 187.0,50, 187.2,70, 187.4,-70, 187.6,70, 187.8,-220, 188.0,40, 188.2,130, 188.4,40, 188.6,-70, 188.8,50, 189.0,-60, 189.2,70, 189.4,-150, 189.6,10, 189.8,-40, 190,110];

const walkTibiaRed = [160,30, 160.2,-40, 160.45,-110, 160.68,-140, 160.8,320, 160.92,-180, 161.15,40, 161.4,-80, 161.65,-120, 161.78,-140, 161.9,370, 162.02,-190, 162.25,30, 162.5,-70, 162.8,-130, 162.93,-150, 163.05,400, 163.17,-190, 163.4,40, 163.65,-90, 163.9,-130, 164.03,-150, 164.15,380, 164.27,-180, 164.5,50, 164.75,-80, 165.0,-120, 165.13,-140, 165.25,440, 165.37,-200, 165.6,30, 165.85,-70, 166.05,-120, 166.18,-140, 166.3,360, 166.42,-180, 166.65,40, 166.9,-80, 167.2,-130, 167.33,-150, 167.45,400, 167.57,-190, 167.8,30, 168.05,-90, 168.35,-130, 168.48,-150, 168.6,490, 168.72,-200, 168.95,40, 169.2,-80, 169.45,-120, 169.58,-150, 169.7,620, 169.82,-280, 170.05,0, 170.3,-60, 170.55,-120, 170.68,-140, 170.8,370, 170.92,-180, 171.15,30, 171.4,-80, 171.65,-130, 171.78,-150, 171.9,420, 172.02,-200, 172.25,40, 172.5,-80, 172.7,-120, 172.83,-150, 172.95,560, 173.07,-270, 173.3,40, 173.55,-80, 173.8,-130, 173.93,-150, 174.05,420, 174.17,-190, 174.4,30, 174.65,-90, 174.85,-130, 174.98,-150, 175.1,350, 175.22,-180, 175.45,40, 175.7,-80, 176.0,-130, 176.13,-150, 176.25,440, 176.37,-200, 176.6,30, 176.85,-90, 177.05,-130, 177.18,-150, 177.3,430, 177.42,-200, 177.65,40, 177.9,-80, 178.15,-130, 178.28,-150, 178.4,400, 178.52,-190, 178.75,30, 179.0,-80, 179.3,-130, 179.43,-150, 179.55,410, 179.67,-200, 179.9,40, 180.15,-80, 180.45,-130, 180.58,-150, 180.7,420, 180.82,-200, 181.05,30, 181.3,-90, 181.55,-130, 181.68,-150, 181.8,420, 181.92,-200, 182.15,40, 182.4,-80, 182.65,-130, 182.78,-150, 182.9,420, 183.02,-190, 183.25,30, 183.5,-80, 183.75,-130, 183.88,-150, 184.0,400, 184.12,-190, 184.35,40, 184.6,-80, 184.9,-130, 185.03,-150, 185.15,380, 185.27,-180, 185.5,30, 185.75,-90, 185.95,-130, 186.08,-150, 186.2,390, 186.32,-190, 186.55,40, 186.8,-80, 187.05,-130, 187.18,-150, 187.3,460, 187.42,-200, 187.65,30, 187.9,-80, 188.15,-130, 188.28,-150, 188.4,540, 188.52,-220, 188.75,30, 189.0,-80, 189.25,-130, 189.38,-150, 189.5,430, 189.62,-200, 189.85,20, 190,-50];
const walkTibiaIR = [160,150, 160.15,20, 160.35,-100, 160.55,60, 160.8,-40, 160.95,-120, 161.2,150, 161.45,-90, 161.65,60, 161.9,-40, 162.05,-130, 162.3,170, 162.55,-100, 162.75,50, 163.05,-50, 163.2,-140, 163.45,180, 163.7,-90, 163.9,60, 164.15,-40, 164.3,-120, 164.55,140, 164.8,-100, 165.0,70, 165.25,-50, 165.4,-150, 165.65,190, 165.9,-90, 166.1,60, 166.3,-40, 166.45,-130, 166.7,160, 166.95,-100, 167.2,50, 167.45,-50, 167.6,-120, 167.85,170, 168.1,-90, 168.35,70, 168.6,-40, 168.75,-140, 169.0,200, 169.25,-100, 169.45,60, 169.7,-60, 169.85,-150, 170.1,150, 170.35,-80, 170.55,50, 170.8,-40, 170.95,-120, 171.2,140, 171.45,-100, 171.65,60, 171.9,-50, 172.05,-130, 172.3,180, 172.55,-90, 172.75,70, 172.95,-60, 173.1,-150, 173.35,170, 173.6,-100, 173.8,50, 174.05,-40, 174.2,-120, 174.45,150, 174.7,-90, 174.9,60, 175.1,-40, 175.25,-110, 175.5,130, 175.75,-100, 175.95,60, 176.25,-50, 176.4,-140, 176.65,170, 176.9,-90, 177.1,50, 177.3,-40, 177.45,-120, 177.7,160, 177.95,-100, 178.15,60, 178.4,-40, 178.55,-130, 178.8,170, 179.05,-90, 179.3,50, 179.55,-40, 179.7,-120, 179.95,150, 180.2,-100, 180.4,70, 180.7,-50, 180.85,-130, 181.1,170, 181.35,-90, 181.55,60, 181.8,-40, 181.95,-120, 182.2,160, 182.45,-100, 182.65,50, 182.9,-40, 183.05,-130, 183.3,180, 183.55,-90, 183.75,60, 184.0,-40, 184.15,-120, 184.4,150, 184.65,-100, 184.9,70, 185.15,-50, 185.3,-140, 185.55,170, 185.8,-90, 186.0,50, 186.2,-40, 186.35,-120, 186.6,150, 186.85,-100, 187.05,60, 187.3,-50, 187.45,-130, 187.7,170, 187.95,-90, 188.15,60, 188.4,-60, 188.55,-140, 188.8,180, 189.05,-100, 189.25,50, 189.5,-40, 189.65,-120, 189.9,150, 190,80];

const walkWristRed = [160,100, 160.14,300, 160.42,-200, 160.69,190, 160.97,-220, 161.26,260, 161.53,-180, 161.8,60, 162.1,-200, 162.38,290, 162.66,-250, 162.95,100, 163.22,-180, 163.5,240, 163.77,-170, 164.04,150, 164.32,-200, 164.61,220, 164.9,-180, 165.18,150, 165.47,-200, 165.76,150, 166.05,-170, 166.33,50, 166.6,-200, 166.87,260, 167.16,-210, 167.45,150, 167.72,-170, 167.99,180, 168.27,-200, 168.54,280, 168.82,-220, 169.11,100, 169.4,-180, 169.68,270, 169.94,-200, 170.2,150, 170.48,-170, 170.77,100, 171.04,-190, 171.31,220, 171.6,-200, 171.89,100, 172.17,-180, 172.46,250, 172.72,-220, 172.97,150, 173.24,-180, 173.52,270, 173.79,-250, 174.06,170, 174.35,-190, 174.64,250, 174.92,-200, 175.21,150, 175.5,-180, 175.78,180, 176.06,-200, 176.35,290, 176.64,-230, 176.93,100, 177.21,-190, 177.5,270, 177.78,-200, 178.07,120, 178.5,-230, 178.9,330, 179.18,-200, 179.45,180, 179.72,-190, 180.0,120, 180.28,-170, 180.57,270, 180.85,-210, 181.14,200, 181.43,-190, 181.72,300, 182.0,-220, 182.29,250, 182.57,-200, 182.86,300, 183.15,-230, 183.44,230, 183.72,-200, 184.01,300, 184.3,-210, 184.58,230, 184.86,-200, 185.15,170, 185.43,-220, 185.72,280, 186.0,-200, 186.3,260, 186.62,-230, 186.95,320, 187.23,-210, 187.52,250, 187.8,-200, 188.1,180, 188.4,-220, 188.72,290, 188.98,-200, 189.24,150, 189.5,-180, 189.75,240, 190,-280];
const walkWristIR = [160,80, 160.14,250, 160.42,-160, 160.69,160, 160.97,-180, 161.26,220, 161.53,-150, 161.8,50, 162.1,-170, 162.38,240, 162.66,-200, 162.95,90, 163.22,-150, 163.5,200, 163.77,-140, 164.04,130, 164.32,-170, 164.61,190, 164.9,-150, 165.18,130, 165.47,-170, 165.76,130, 166.05,-140, 166.33,40, 166.6,-170, 166.87,220, 167.16,-170, 167.45,130, 167.72,-140, 167.99,150, 168.27,-170, 168.54,230, 168.82,-180, 169.11,90, 169.4,-150, 169.68,220, 169.94,-170, 170.2,130, 170.48,-140, 170.77,90, 171.04,-160, 171.31,190, 171.6,-170, 171.89,90, 172.17,-150, 172.46,210, 172.72,-180, 172.97,130, 173.24,-150, 173.52,220, 173.79,-200, 174.06,140, 174.35,-160, 174.64,210, 174.92,-170, 175.21,130, 175.5,-150, 175.78,150, 176.06,-170, 176.35,240, 176.64,-190, 176.93,90, 177.21,-160, 177.5,220, 177.78,-170, 178.07,100, 178.5,-190, 178.9,270, 179.18,-170, 179.45,150, 179.72,-160, 180.0,100, 180.28,-140, 180.57,220, 180.85,-170, 181.14,170, 181.43,-160, 181.72,250, 182.0,-180, 182.29,210, 182.57,-170, 182.86,250, 183.15,-190, 183.44,190, 183.72,-170, 184.01,250, 184.3,-170, 184.58,190, 184.86,-170, 185.15,140, 185.43,-180, 185.72,230, 186.0,-170, 186.3,220, 186.62,-190, 186.95,270, 187.23,-170, 187.52,210, 187.8,-170, 188.1,150, 188.4,-180, 188.72,240, 188.98,-170, 189.24,130, 189.5,-150, 189.75,200, 190,-230];

// subplot list: column 0 = Resting, 1 = Walking
const panels = [
  { col: 0, row: 0, title: 'Back of Neck', red: restNeckRed, ir: restNeckIR, yMin: -85, yMax: 200, yTicks: [0, 100, 200] },
  { col: 0, row: 1, title: 'Finger', red: restFingerRed, ir: restFingerIR, yMin: -163, yMax: 200, yTicks: [-100, 0, 100, 200] },
  { col: 0, row: 2, title: 'Forehead', red: restForeheadRed, ir: restForeheadIR, yMin: -92, yMax: 100, yTicks: [-50, 0, 50, 100] },
  { col: 0, row: 3, title: 'Lower Back', red: restLowerBackRed, ir: restLowerBackIR, yMin: -1280, yMax: 800, yTicks: [-1000, -500, 0, 500] },
  { col: 0, row: 4, title: 'Rib Cage', red: restRibRed, ir: restRibIR, yMin: -330, yMax: 500, yTicks: [-200, 0, 200, 400] },
  { col: 0, row: 5, title: 'Temple', red: restTempleRed, ir: restTempleIR, yMin: -1000, yMax: 1000, yTicks: [-1000, 0, 1000] },
  { col: 0, row: 6, title: 'Tibia', red: restTibiaRed, ir: restTibiaIR, yMin: -50, yMax: 50, yTicks: [-50, 0, 50] },
  { col: 0, row: 7, title: 'Wrist', red: restWristRed, ir: restWristIR, yMin: -20, yMax: 20, yTicks: [-20, 0, 20] },
  { col: 1, row: 0, title: 'Back of Neck', red: walkNeckRed, ir: walkNeckIR, yMin: -445, yMax: 520, yTicks: [-400, -200, 0, 200, 400] },
  { col: 1, row: 1, title: 'Finger', red: walkFingerRed, ir: walkFingerIR, yMin: -310, yMax: 315, yTicks: [-200, 0, 200] },
  { col: 1, row: 2, title: 'Forehead', red: walkForeheadRed, ir: walkForeheadIR, yMin: -100, yMax: 100, yTicks: [-100, 0, 100] },
  { col: 1, row: 3, title: 'Lower Back', red: walkLowerBackRed, ir: walkLowerBackIR, yMin: -200, yMax: 255, yTicks: [-200, 0, 200] },
  { col: 1, row: 4, title: 'Rib Cage', red: walkRibRed, ir: walkRibIR, yMin: -2000, yMax: 2000, yTicks: [-2000, 0, 2000] },
  { col: 1, row: 5, title: 'Temple', red: walkTempleRed, ir: walkTempleIR, yMin: -390, yMax: 590, yTicks: [-200, 0, 200, 400] },
  { col: 1, row: 6, title: 'Tibia', red: walkTibiaRed, ir: walkTibiaIR, yMin: -275, yMax: 630, yTicks: [-200, 0, 200, 400, 600] },
  { col: 1, row: 7, title: 'Wrist', red: walkWristRed, ir: walkWristIR, yMin: -300, yMax: 345, yTicks: [-200, 0, 200] }
];

Chart.defaults.font.family = "'Liberation Sans', Arial, Helvetica, sans-serif";

function pts(flat) {
  const out = [];
  for (let i = 0; i < flat.length; i += 2) out.push({ x: flat[i], y: flat[i + 1] });
  return out;
}

// matlab style box with inward tick marks
const boxPlugin = {
  id: 'box',
  afterDraw(chart) {
    const { ctx, chartArea: a, scales: { x, y } } = chart;
    ctx.save();
    ctx.strokeStyle = '#6b6b6b';
    ctx.lineWidth = 1;
    const l = Math.round(a.left) + 0.5, r = Math.round(a.right) - 0.5;
    const t = Math.round(a.top) + 0.5, b = Math.round(a.bottom) - 0.5;
    ctx.strokeRect(l, t, r - l, b - t);
    ctx.beginPath();
    x.ticks.forEach(tk => {
      const px = Math.round(x.getPixelForValue(tk.value)) + 0.5;
      ctx.moveTo(px, b); ctx.lineTo(px, b - 4);
      ctx.moveTo(px, t); ctx.lineTo(px, t + 4);
    });
    y.ticks.forEach(tk => {
      const py = Math.round(y.getPixelForValue(tk.value)) + 0.5;
      ctx.moveTo(l, py); ctx.lineTo(l + 4, py);
      ctx.moveTo(r, py); ctx.lineTo(r - 4, py);
    });
    ctx.stroke();
    ctx.restore();
  }
};

panels.forEach(p => {
  const c = document.createElement('canvas');
  c.width = 526;
  c.height = 108;
  c.style.left = (p.col ? 528 : 0) + 'px';
  c.style.top = (Math.round(53 + 102.43 * p.row) - 19) + 'px';
  document.body.appendChild(c);

  new Chart(c, {
    type: 'line',
    data: {
      datasets: [
        { data: pts(p.red), borderColor: '#ff0000', borderWidth: 1.5, pointRadius: 0, cubicInterpolationMode: 'monotone', borderJoinStyle: 'round' },
        { data: pts(p.ir), borderColor: 'rgba(60,60,255,0.55)', borderWidth: 0.9, pointRadius: 0, cubicInterpolationMode: 'monotone' }
      ]
    },
    options: {
      responsive: false,
      animation: false,
      devicePixelRatio: 1,
      events: [],
      layout: { padding: { left: 0, right: 63, top: 0, bottom: 0 } },
      plugins: {
        legend: { display: false },
        tooltip: { enabled: false },
        title: {
          display: true, text: p.title, color: '#000',
          font: { size: 12, weight: 'bold', lineHeight: 1.25 },
          padding: { top: 3, bottom: 1 }
        }
      },
      scales: {
        x: {
          type: 'linear', min: 160, max: 190,
          grid: { display: false, drawTicks: false },
          border: { display: false },
          afterBuildTicks: s => { s.ticks = xTicks.map(v => ({ value: v })); },
          afterFit: s => { s.height = 38; },
          ticks: { color: '#262626', font: { size: 11 }, padding: 7, maxRotation: 0, autoSkip: false, callback: v => String(v) },
          title: { display: true, text: 'time (s)', color: '#262626', font: { size: 12 }, padding: { top: 0, bottom: 1 } }
        },
        y: {
          type: 'linear', min: p.yMin, max: p.yMax,
          grid: { display: false, drawTicks: false },
          border: { display: false },
          afterBuildTicks: s => { s.ticks = p.yTicks.map(v => ({ value: v })); },
          afterFit: s => { s.width = 63; },
          ticks: { color: '#262626', font: { size: 11 }, padding: 5, autoSkip: false, callback: v => String(v) },
          title: { display: true, text: 'amplitude', color: '#262626', font: { size: 12 }, padding: { top: 12, bottom: 0 } }
        }
      }
    },
    plugins: [boxPlugin]
  });
});
</script>
</body>
</html>
